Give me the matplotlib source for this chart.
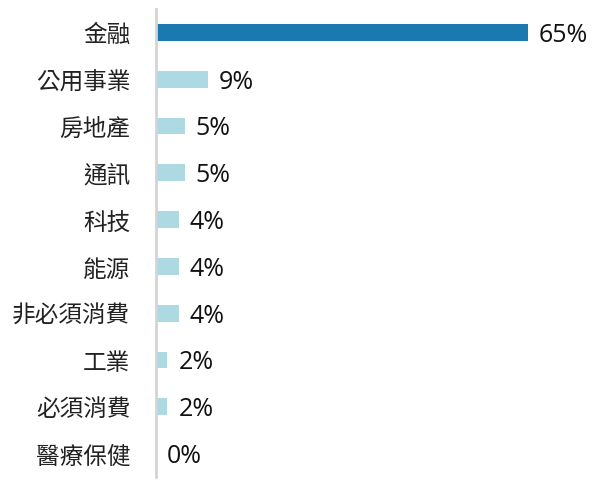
import matplotlib
matplotlib.use("Agg")
import matplotlib.pyplot as plt

categories = ["金融", "公用事業", "房地產", "通訊", "科技", "能源", "非必須消費", "工業", "必須消費", "醫療保健"]
values = [65, 9, 5, 5, 4, 4, 4, 2, 2, 0]
labels = ["65%", "9%", "5%", "5%", "4%", "4%", "4%", "2%", "2%", "0%"]

colors = ["#1a7ab0"] + ["#acd9e2"] * (len(values) - 1)

fig = plt.figure(figsize=(6.01, 4.89), dpi=100)
ax = fig.add_axes([156 / 601, 11 / 489, 440 / 601, 468 / 489])

ypos = list(range(len(categories)))
ax.barh(ypos, values, height=0.36, color=colors, zorder=2)
ax.set_ylim(len(categories) - 0.5, -0.5)
ax.set_xlim(0, 65 * 440 / 372)

for y, v, lab in zip(ypos, values, labels):
    ax.annotate(lab, (v, y), xytext=(11, -2), textcoords="offset pixels",
                va="center", ha="left", fontsize=18, family=["Open Sans", "DejaVu Sans"],
                color="#111111")

ax.set_yticks(ypos)
ax.set_yticklabels(categories, family=["Noto Sans CJK TC", "DejaVu Sans"], fontsize=17,
                   color="#222222")
ax.tick_params(axis="y", length=0, pad=18.5)
ax.set_xticks([])
for s in ["top", "right", "bottom"]:
    ax.spines[s].set_visible(False)
ax.spines["left"].set_color("#d4d4d4")
ax.spines["left"].set_linewidth(2)

fig.savefig("out.png", dpi=100)
